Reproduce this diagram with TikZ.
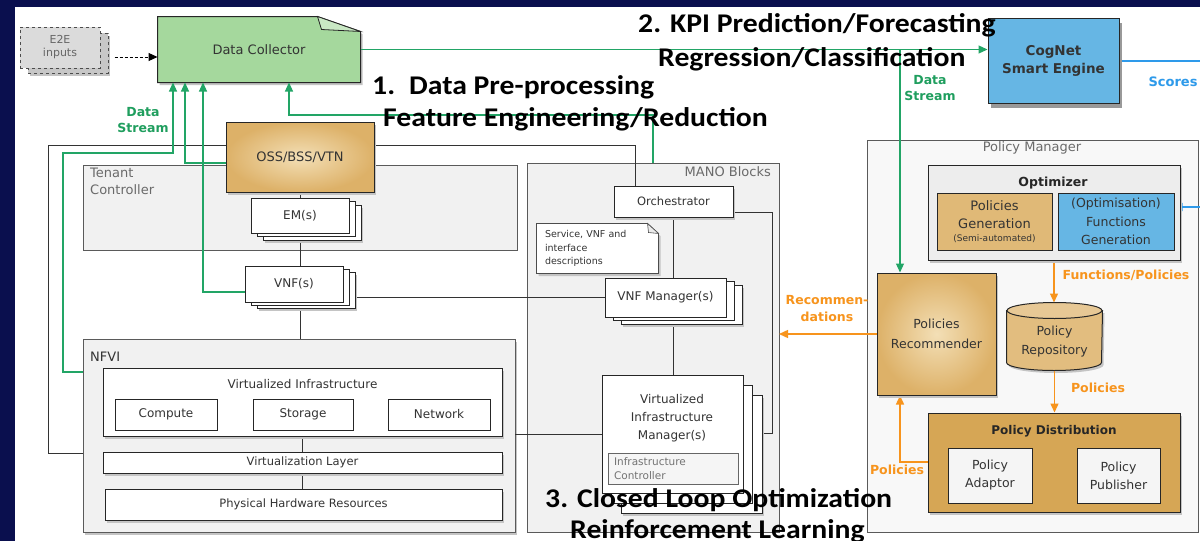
\documentclass[tikz,border=0pt]{standalone}
\usepackage{fontspec}
\usetikzlibrary{arrows.meta,calc}
\newfontfamily\dg{DejaVu Sans}
\newfontfamily\ov[FakeStretch=1.1]{Carlito}
\newcommand\fsz[2]{\fontsize{#1}{#2}\selectfont}
\pgfdeclarelayer{paperlayer}
\pgfdeclarelayer{wirelayer}
\pgfsetlayers{paperlayer,wirelayer,main}
\definecolor{navy}{HTML}{0A0F4E}
\definecolor{dcgreen}{HTML}{A5D89D}
\definecolor{wgreen}{HTML}{22A566}
\definecolor{lgreen}{HTML}{1F9E5E}
\definecolor{cogblue}{HTML}{66B6E4}
\definecolor{wblue}{HTML}{2E9AEA}
\definecolor{tanbox}{HTML}{DDB168}
\definecolor{tanlt}{HTML}{F3DFB6}
\definecolor{tandk}{HTML}{D6A655}
\definecolor{worange}{HTML}{F7941D}
\definecolor{framegray}{HTML}{5A5A5A}
\definecolor{contfill}{HTML}{F1F1F1}
\definecolor{boxline}{HTML}{262626}
\definecolor{labgray}{HTML}{6A6A6A}
\definecolor{shadecol}{HTML}{C4C4C4}
\begin{document}
\begin{tikzpicture}[x=1pt,y=-1pt,
  grpnode/.style={inner sep=0pt, outer sep=0pt},
  grpedge/.style={draw=framegray, line width=0.9pt, fill=contfill},
  box/.style={draw=boxline, line width=1pt, fill=white, inner sep=0pt, align=center,
    text=black!80, font={\dg\fsz{12}{17}}},
  sh/.style={preaction={fill=shadecol, draw=none, transform canvas={xshift=2pt, yshift=-2.5pt}}},
  wire/.style={draw=black!80, line width=1pt},
  gwire/.style={draw=wgreen, line width=1.2pt},
  owire/.style={draw=worange, line width=1.4pt},
  bwire/.style={draw=wblue, line width=1.3pt},
  arr/.style={-{Triangle[length=9pt,width=8pt]}},
  clab/.style={inner sep=0pt, text=labgray, font={\dg\fsz{13}{17}}, align=left},
  glab/.style={inner sep=0pt, text=lgreen, font={\dg\bfseries\fsz{12.5}{16}}, align=center},
  olab/.style={inner sep=0pt, text=worange, font={\dg\bfseries\fsz{12.5}{17}}, align=center},
  blab/.style={inner sep=0pt, text=wblue, font={\dg\bfseries\fsz{13}{16}}, align=center},
  over/.style={inner sep=0pt, anchor=base west, text=black, font={\ov\bfseries\fsz{27}{30}}}
]
\useasboundingbox (0,0) rectangle (1200,541);

% ---------- group frames (named nodes, outlines drawn below) ----------
\node[grpnode, minimum width=434pt, minimum height=85pt] (tenant) at (300,207.5) {};
\node[grpnode, minimum width=432pt, minimum height=193pt] (nfvi) at (299,435.5) {};
\node[grpnode, minimum width=252pt, minimum height=369pt] (mano) at (653,347.5) {};
\node[grpnode, minimum width=331pt, minimum height=392pt] (pm) at (1032.5,336) {};

\begin{pgfonlayer}{paperlayer}
\fill[navy] (0,0) rectangle (1200,541);
\fill[white] (15,7) rectangle (1200,541);
\path[grpedge] (tenant.north west) rectangle (tenant.south east);
\path[grpedge, sh] (nfvi.north west) rectangle (nfvi.south east);
\path[grpedge] (mano.north west) rectangle (mano.south east);
\path[grpedge, fill=contfill!50!white] (pm.north west) rectangle (pm.south east);
\end{pgfonlayer}

\node[clab, anchor=west] (tcl) at (90,181.5) {Tenant\\Controller};
\node[clab, anchor=west, text=black!80] (nfl) at (90,357) {NFVI};
\node[clab, anchor=east] (mal) at (771,172) {MANO Blocks};
\node[clab] (pml) at (1032,148) {Policy Manager};

% ---------- inputs and collector ----------
\node[box, dashed, draw=black!70, fill=black!22, minimum width=80pt, minimum height=40pt, sh] (e2eb) at (68,53) {};
\node[box, dashed, draw=black!70, fill=black!14, minimum width=80pt, minimum height=41pt,
  text=black!60, font={\dg\fsz{11}{13}}] (e2e) at (60,47.5) {E2E\\inputs};
\node[box, draw=none, fill=none, minimum width=202pt, minimum height=65pt, font={\dg\fsz{13}{16}}] (dc) at (259,49.5) {Data Collector};

\node[box, sh, shading=radial, inner color=tanlt, outer color=tanbox, minimum width=148pt, minimum height=70pt,
  font={\dg\fsz{13}{16}}] (oss) at (300,157) {OSS/BSS/VTN};

% ---------- element managers and VNFs ----------
\node[box, sh, minimum width=98pt, minimum height=35pt] (em3) at (312,222.5) {};
\node[box, minimum width=98pt, minimum height=35pt] (em2) at (306,219) {};
\node[box, minimum width=98pt, minimum height=35pt] (em) at (300,215.5) {EM(s)};

\node[box, sh, minimum width=98pt, minimum height=36pt] (vnf3) at (306,290) {};
\node[box, minimum width=98pt, minimum height=36pt] (vnf2) at (300,287) {};
\node[box, minimum width=98pt, minimum height=36pt] (vnf) at (294,284) {VNF(s)};

% ---------- NFVI ----------
\node[box, sh, minimum width=399pt, minimum height=68pt] (vi) at (302.5,402) {};
\node[inner sep=0pt, text=black!80, font={\dg\fsz{12}{15}}] (vit) at (302.5,384) {Virtualized Infrastructure};
\node[box, minimum width=102pt, minimum height=31pt] (cmp) at (166,414.5) {Compute};
\node[box, minimum width=100pt, minimum height=31pt] (sto) at (303,414.5) {Storage};
\node[box, minimum width=102pt, minimum height=31pt] (net) at (439,414.5) {Network};
\node[box, sh, minimum width=399pt, minimum height=21pt, font={\dg\fsz{11.5}{14}}] (vl) at (302.5,462.5) {Virtualization Layer};
\node[box, sh, minimum width=397pt, minimum height=31pt, font={\dg\fsz{11.5}{14}}] (phr) at (303.5,504.5) {Physical Hardware Resources};

% ---------- MANO ----------
\node[box, sh, minimum width=119pt, minimum height=31pt, font={\dg\fsz{11.5}{14}}] (orch) at (673.5,201.5) {Orchestrator};
\node[box, draw=none, fill=none, minimum width=121pt, minimum height=49pt, text width=105pt, align=left,
  font={\dg\fsz{9.5}{13.5}}] (note) at (597.5,248.5) {Service, VNF and\\interface\\descriptions};

\node[box, sh, minimum width=121pt, minimum height=39pt] (vnfm3) at (681.5,304.5) {};
\node[box, minimum width=121pt, minimum height=39pt] (vnfm2) at (673.5,301) {};
\node[box, minimum width=121pt, minimum height=39pt] (vnfm) at (665.5,297.5) {VNF Manager(s)};

\node[box, sh, minimum width=141pt, minimum height=118pt] (vim3) at (691.5,454) {};
\node[box, minimum width=141pt, minimum height=118pt] (vim2) at (682,444) {};
\node[box, minimum width=141pt, minimum height=118pt] (vim) at (672.5,434) {};
\node[inner sep=0pt, align=center, text=black!80, font={\dg\fsz{12}{18}}] (vimt) at (672,418) {Virtualized\\Infrastructure\\Manager(s)};
\node[box, draw=black!60, fill=black!4, minimum width=130pt, minimum height=31pt, text width=118pt, align=left,
  text=black!55, font={\dg\fsz{10.5}{14}}] (ic) at (673,468.5) {Infrastructure\\Controller};

% ---------- CogNet engine ----------
\node[box, fill=cogblue, minimum width=131pt, minimum height=85pt, font={\dg\bfseries\fsz{13.5}{18}},
  preaction={fill=black!40, draw=none, transform canvas={xshift=3pt, yshift=-5pt}}] (cog) at (1053.5,60.5) {CogNet\\Smart Engine};

% ---------- policy manager ----------
\node[box, sh, fill=black!7, minimum width=252pt, minimum height=95pt] (opt) at (1054,212.5) {};
\node[inner sep=0pt, font={\dg\bfseries\fsz{12.5}{15}}, text=black!85] (optt) at (1053,183) {Optimizer};
\node[box, fill=tanbox!90!white, minimum width=115pt, minimum height=57pt, font={\dg\fsz{13}{18}}] (pg) at (994.5,221.5)
  {Policies\\Generation\\[-5pt]{\dg\fsz{9}{11}(Semi-automated)}};
\node[box, fill=cogblue, minimum width=116pt, minimum height=57pt, font={\dg\fsz{12.5}{18.5}}] (fg) at (1116,221.5)
  {(Optimisation)\\Functions\\Generation};

\node[box, sh, shading=radial, inner color=tanlt, outer color=tanbox, minimum width=119pt, minimum height=122pt,
  font={\dg\fsz{12.5}{20}}] (rec) at (936.5,334) {Policies\\Recommender};

\node[box, draw=none, fill=none, minimum width=95pt, minimum height=67pt] (repo) at (1054.5,336.5) {};

\node[box, sh, fill=tandk, minimum width=252pt, minimum height=99pt] (pd) at (1054,462.5) {};
\node[inner sep=0pt, font={\dg\bfseries\fsz{12}{15}}, text=black!85] (pdt) at (1054,431) {Policy Distribution};
\node[box, fill=black!4, minimum width=84pt, minimum height=55pt, font={\dg\fsz{12.5}{18}}] (pa) at (990,475.5) {Policy\\Adaptor};
\node[box, fill=black!4, minimum width=83pt, minimum height=55pt, font={\dg\fsz{12.5}{18}}] (pp) at (1118.5,475.5) {Policy\\Publisher};

% ---------- hand-drawn outlines and connectors ----------
\begin{pgfonlayer}{wirelayer}
  % folded-corner collector
  \path[draw=boxline, line width=1pt, fill=dcgreen, sh]
    (dc.south west) -- (dc.north west) -- ($(dc.north east)+(-43,0)$) -- ($(dc.north east)+(0,15)$)
    -- (dc.south east) -- cycle;
  \path[draw=boxline, line width=0.8pt, fill=dcgreen!60!white]
    ($(dc.north east)+(-43,0)$) -- ($(dc.north east)+(-39,13)$) -- ($(dc.north east)+(0,15)$) -- cycle;
  % folded-corner note
  \path[draw=black!70, line width=0.8pt, fill=white, sh]
    (note.south west) -- (note.north west) -- ($(note.north east)+(-11,0)$) -- ($(note.north east)+(0,10)$)
    -- (note.south east) -- cycle;
  \path[draw=black!70, line width=0.6pt, fill=black!8]
    ($(note.north east)+(-11,0)$) -- ($(note.north east)+(-10,9)$) -- ($(note.north east)+(0,10)$) -- cycle;
  % policy repository cylinder
  \path[draw=boxline, line width=1pt, fill=tanbox!85!white, sh]
    ($(repo.north west)+(0,8)$) -- ($(repo.south west)+(0,-8)$)
    arc[start angle=180, end angle=0, x radius=47.5, y radius=8]
    -- ($(repo.north east)+(0,8)$) -- cycle;
  \path[draw=boxline, line width=1pt, fill=tanbox!70!white]
    ($(repo.north)+(0,8)$) ellipse[x radius=47.5, y radius=8];

  % black interface lines
  \draw[wire] (oss.south) -- (em.north);
  \draw[wire] (em.south) -- (em.south |- vnf.north);
  \draw[wire] (em.south |- vnf.south) -- (em.south |- nfvi.north);
  \draw[wire] (vnfm.west) -- (vnfm.west -| vnf3.east);
  \coordinate (ot) at (635,145);
  \coordinate (lt) at (48,145);
  \coordinate (lb) at (48,453);
  \draw[wire] (ot |- orch.north) -- (ot) -- (lt) -- (lb) -- (lb -| nfvi.west);
  \draw[wire] (orch.south) -- (orch.south |- vnfm.north);
  \draw[wire] (orch.south |- vnfm.south) -- (orch.south |- vim.north);
  \coordinate (rt) at (772,212);
  \coordinate (rb) at (772,433);
  \draw[wire] (rt -| orch.east) -- (rt) -- (rb) -- (rb -| vim3.east);
  \draw[wire] (vim.west) -- (vim.west -| nfvi.east);
  \draw[wire] (vi.south) -- (vl.north);
  \draw[wire] (vl.south) -- (vl.south |- phr.north);

  % data streams
  \coordinate (g1a) at (63,372);
  \coordinate (g1b) at (63,153);
  \coordinate (g1c) at (173,153);
  \draw[gwire, arr] (g1a -| nfvi.west) -- (g1a) -- (g1b) -- (g1c) -- (g1c |- dc.south);
  \coordinate (g2) at (185,163);
  \draw[gwire, arr] (g2 -| oss.west) -- (g2) -- (g2 |- dc.south);
  \coordinate (g3) at (203,292);
  \draw[gwire, arr] (g3 -| vnf.west) -- (g3) -- (g3 |- dc.south);
  \coordinate (g4a) at (653,115);
  \coordinate (g4b) at (289,115);
  \draw[gwire, arr] (g4a |- mano.north) -- (g4a) -- (g4b) -- (g4b |- dc.south);
  \draw[gwire, arr] (dc.east) -- (dc.east -| cog.west);
  \coordinate (g5) at (900,49.5);
  \draw[gwire, arr] (g5) -- (g5 |- rec.north);

  % scores
  \coordinate (sc) at (1200,61);
  \draw[bwire] (cog.east |- sc) -- (sc);
  \coordinate (fb) at (1200,207);
  \draw[bwire, -{Triangle[length=8pt,width=8pt]}] (fb) -- (fb -| fg.east);

  % policy flow
  \draw[owire, arr] (opt.south) -- (opt.south |- repo.north);
  \draw[owire, arr] (repo.south) -- (repo.south |- pd.north);
  \coordinate (o3) at (900,462);
  \draw[owire, arr] (pd.west |- o3) -- (o3) -- (o3 |- rec.south);
  \draw[owire, arr] (rec.west) -- (rec.west -| mano.east);

  % external inputs
  \draw[line width=1pt, densely dashed, arr] ($(e2eb.east)+(6,4)$) -- ($(dc.west)+(0,7.5)$);
\end{pgfonlayer}

\node[inner sep=0pt, align=center, text=black!80, font={\dg\fsz{12.5}{19}}] (repot) at (1054.5,342) {Policy\\Repository};

% ---------- connector labels ----------
\node[glab] (ds1) at (143,120) {Data\\Stream};
\node[glab] (ds2) at (930,88) {Data\\Stream};
\node[blab] (scl) at (1173,82) {Scores};
\node[olab] (fpl) at (1126,275) {Functions/Policies};
\node[olab] (pl1) at (1098,388) {Policies};
\node[olab] (pl2) at (897,470) {Policies};
\node[olab] (recl) at (827,309) {Recommen-\\dations};

% ---------- stage headings ----------
\node[over] (t2a) at (638,32) {2. KPI Prediction/Forecasting};
\node[over] (t2b) at (658,66) {Regression/Classification};
\node[over] (t1a) at (372,94) {1.\hspace{14pt}Data Pre-processing};
\node[over] (t1b) at (383,126) {Feature Engineering/Reduction};
\node[over] (t3a) at (545,507) {3. Closed Loop Optimization};
\node[over] (t3b) at (570,538) {Reinforcement Learning};
\end{tikzpicture}
\end{document}
